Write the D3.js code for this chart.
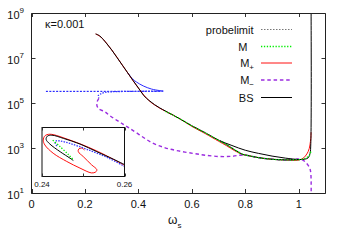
<!DOCTYPE html>
<html>
<head>
<meta charset="utf-8">
<script src="https://cdn.jsdelivr.net/npm/d3@7/dist/d3.min.js"></script>
<style>
 body{margin:0;background:#fff}
 svg{display:block;font-family:"Liberation Sans",Arial,sans-serif}
</style>
</head>
<body>
<svg id="chart" width="346" height="242"></svg>
<script>
// ---- data: [omega_s, value] ----
var xTicks = [0, 0.2, 0.4, 0.6, 0.8, 1];
var xTickLabels = ["0", "0.2", "0.4", "0.6", "0.8", "1"];
var yTickExp = [1, 3, 5, 7, 9];
var insetTicks = [0.24, 0.25, 0.26];
var insetTickLabels = ["0.24", "", "0.26"];
var kappaLabel = "κ=0.001";

var probelimit = [[0.054, 3.3e5], [0.49, 3.3e5]];

// blue branch (no key entry)
var blueSolid = [[0.36, 2.19e6], [0.38, 1.12e6], [0.393, 8.51e5], [0.418, 5.75e5], [0.449, 4.17e5], [0.48, 3.55e5], [0.493, 3.39e5]];
var blueDotted = [[0.493, 3.39e5], [0.40, 3.31e5], [0.30, 3.16e5], [0.275, 2.95e5], [0.258, 2.51e5], [0.25, 2.09e5], [0.252, 1.62e5]];

var bsUpper = [[0.24, 1.17e8], [0.25, 1.05e8], [0.26, 8.51e7], [0.28, 4.57e7], [0.30, 2.29e7], [0.32, 1.05e7],
  [0.34, 4.79e6], [0.36, 2.19e6], [0.38, 1.0e6], [0.40, 4.68e5], [0.42, 2.14e5], [0.44, 1.29e5], [0.46, 8.51e4],
  [0.48, 6.03e4], [0.50, 4.47e4], [0.55, 2.14e4], [0.60, 9.77e3], [0.65, 4.79e3], [0.70, 2.24e3], [0.75, 1.29e3], [0.80, 794],
  [0.85, 575], [0.90, 437], [0.95, 355], [1.00, 309], [1.02, 316], [1.035, 363], [1.042, 562], [1.045, 1585], [1.046, 3.16e9]];
var bsLower = [[0.70, 2.24e3], [0.73, 1.41e3], [0.76, 832], [0.79, 525], [0.80, 490], [0.85, 372], [0.90, 316], [0.95, 295], [1.01, 309]];

var mTotal = [[0.50, 4.27e4], [0.55, 2.14e4], [0.60, 9.55e3], [0.65, 4.68e3], [0.70, 2.19e3], [0.73, 1.41e3], [0.76, 832],
  [0.79, 525], [0.80, 490], [0.85, 372], [0.90, 316], [0.95, 295], [1.01, 309], [1.029, 372], [1.041, 490], [1.045, 692]];

var mPlus = [[0.24, 1.17e8], [0.26, 8.51e7], [0.30, 2.29e7], [0.35, 3.24e6], [0.40, 4.57e5], [0.44, 1.26e5], [0.48, 5.89e4],
  [0.52, 3.31e4], [0.56, 1.82e4], [0.60, 9.12e3], [0.65, 4.37e3], [0.70, 2.0e3], [0.73, 1.26e3], [0.76, 759], [0.79, 513], [0.80, 490],
  [0.85, 372], [0.90, 316], [0.95, 295], [1.01, 316], [1.035, 692], [1.045, 2.69e3], [1.046, 5.01e3]];

var mMinus = [[0.252, 1.62e5], [0.244, 9.77e4], [0.25, 5.75e4], [0.275, 4.07e4], [0.293, 2.75e4], [0.318, 1.74e4],
  [0.337, 1.26e4], [0.36, 8.51e3], [0.40, 4.17e3], [0.45, 1.74e3], [0.50, 1.02e3], [0.55, 741], [0.605, 575],
  [0.65, 479], [0.705, 417], [0.75, 427], [0.792, 490], [0.85, 372], [0.90, 316], [0.95, 295], [1.01, 309],
  [1.029, 209], [1.041, 126], [1.045, 75.9], [1.046, 3.16]];

// inset (zoom on the spiral near omega_s = 0.24 .. 0.26)
var insetBS = [[0.2601, 6.24e7], [0.2573, 6.93e7], [0.2533, 7.98e7], [0.2492, 9.23e7], [0.2452, 1.026e8], [0.2424, 1.09e8],
  [0.2413, 1.07e8], [0.2410, 1.007e8], [0.2419, 9.23e7], [0.2444, 7.98e7], [0.2468, 7.06e7], [0.2476, 6.76e7]];
var insetMPlus = [[0.2601, 6.15e7], [0.2533, 8.09e7], [0.2468, 9.93e7], [0.2419, 1.11e8], [0.2407, 1.076e8], [0.2403, 9.93e7],
  [0.2407, 9.06e7], [0.2427, 7.76e7], [0.2460, 6.64e7], [0.2492, 5.86e7], [0.2520, 5.35e7], [0.2530, 5.44e7],
  [0.2533, 5.68e7], [0.2520, 6.24e7], [0.2500, 7.28e7], [0.2488, 7.98e7], [0.2489, 8.39e7], [0.2496, 8.55e7], [0.2503, 8.24e7]];
var insetM = [[0.2426, 9.93e7], [0.2445, 8.71e7], [0.2465, 7.5e7], [0.2476, 6.84e7]];
var insetBlue = [[0.2601, 6.03e7], [0.2557, 7.19e7], [0.2508, 8.36e7], [0.2468, 9.33e7], [0.2444, 9.77e7], [0.2434, 9.77e7],
  [0.2432, 9.33e7], [0.2436, 8.89e7]];

var keyNames = ["probelimit", "M", "M+", "M−", "BS"];

// ---- layout ----
var svg = d3.select("#chart");
var pL = 31.5, pR = 325.5, pT = 13, pB = 193;
var x = d3.scaleLinear().domain([0, 1.1]).range([pL, pR]);
var y = d3.scaleLog().domain([10, 1e9]).range([pB, pT]);

var insL = 42, insR = 124.5, insT = 127.5, insB = 176.5;
var xi = d3.scaleLinear().domain([0.24, 0.26]).range([insL, insR]);
var yi = d3.scaleLog().domain([5.0e7, 1.26e8]).range([insB, insT]);

var defs = svg.append("defs");
defs.append("clipPath").attr("id", "plotclip").append("rect")
    .attr("x", pL).attr("y", pT).attr("width", pR - pL).attr("height", pB - pT);
defs.append("clipPath").attr("id", "insclip").append("rect")
    .attr("x", insL).attr("y", insT).attr("width", insR - insL).attr("height", insB - insT);

function lineFor(sx, sy) {
  return d3.line().x(function(d){ return sx(d[0]); }).y(function(d){ return sy(d[1]); })
      .curve(d3.curveCatmullRom.alpha(0.5));
}
var mainLine = lineFor(x, y), insLine = lineFor(xi, yi);

var styles = {
  probe:  {stroke: "#0000ff", width: 1, dash: "2,1.4"},
  probeKey: {stroke: "#777", width: 1, dash: "1.5,1.5"},
  blue:   {stroke: "#2a2aff", width: 1, dash: null},
  blueDot:{stroke: "#3a3aff", width: 1.3, dash: "1.5,1.2"},
  m:      {stroke: "#00ee00", width: 1.3, dash: "1.3,1.6"},
  mplus:  {stroke: "#ff1010", width: 1, dash: null},
  mminus: {stroke: "#9a2be0", width: 1.4, dash: "3.5,2.8"},
  bs:     {stroke: "#000", width: 1, dash: null}
};

function drawPath(g, data, gen, st) {
  g.append("path").datum(data).attr("d", gen)
    .attr("fill", "none").attr("stroke", st.stroke).attr("stroke-width", st.width)
    .attr("stroke-dasharray", st.dash);
}

// ---- frame & ticks ----
var frame = svg.append("g");
frame.selectAll(".xt").data(xTicks).enter().append("path")
    .attr("d", function(d){ var px = Math.round(x(d)) + 0.5;
      return "M" + px + "," + pB + "V" + (pB - 4) + "M" + px + "," + pT + "V" + (pT + 4); })
    .attr("stroke", "#333").attr("stroke-width", 1);
frame.selectAll(".yt").data(yTickExp).enter().append("path")
    .attr("d", function(e){ var py = Math.round(y(Math.pow(10, e))) + 0.5;
      return "M" + pL + "," + py + "H" + (pL + 4) + "M" + pR + "," + py + "H" + (pR - 4); })
    .attr("stroke", "#333").attr("stroke-width", 1);

frame.selectAll(".xl").data(xTicks).enter().append("text")
    .attr("x", function(d){ return x(d); }).attr("y", 208)
    .attr("text-anchor", "middle").attr("font-size", 11).attr("fill", "#111")
    .text(function(d, i){ return xTickLabels[i]; });

var yl = frame.selectAll(".yl").data(yTickExp).enter().append("text")
    .attr("x", 24).attr("y", function(e){ return y(Math.pow(10, e)) + 5.5; })
    .attr("text-anchor", "end").attr("font-size", 11).attr("fill", "#111");
yl.append("tspan").text("10");
yl.append("tspan").attr("dy", -6).attr("font-size", 8).text(function(e){ return e; });

var xlab = svg.append("text").attr("x", 168).attr("y", 224).attr("font-size", 12).attr("fill", "#111");
xlab.append("tspan").text("ω");
xlab.append("tspan").attr("dy", 4).attr("font-size", 8).text("s");

svg.append("text").attr("x", 45).attr("y", 28).attr("font-size", 11).attr("fill", "#111").text(kappaLabel);

// ---- curves ----
var plot = svg.append("g").attr("clip-path", "url(#plotclip)");
drawPath(plot, probelimit, mainLine, styles.probe);
drawPath(plot, blueSolid, mainLine, styles.blue);
drawPath(plot, blueDotted, mainLine, styles.blueDot);
drawPath(plot, mPlus, mainLine, styles.mplus);
drawPath(plot, mMinus, mainLine, styles.mminus);
drawPath(plot, bsLower, mainLine, styles.bs);
drawPath(plot, bsUpper, mainLine, styles.bs);
drawPath(plot, mTotal, mainLine, styles.m);

svg.append("path")
    .attr("d", "M" + pL + "," + (pT + 0.5) + "H" + pR + "V" + (pB + 0.5) + "H" + pL + "Z")
    .attr("fill", "none").attr("stroke", "#222").attr("stroke-width", 1);

// ---- key ----
var keyY = [29.5, 46.5, 63, 80, 97.5];
var keyStyles = [styles.probeKey, styles.m, styles.mplus, styles.mminus, styles.bs];
var key = svg.append("g");
keyNames.forEach(function(name, i){
  var t = key.append("text").attr("y", keyY[i] + 4).attr("font-size", 11).attr("fill", "#111").attr("text-anchor", "end");
  if (name === "M+" || name === "M−") {
    t.attr("x", 254);
    t.append("tspan").text("M");
    t.append("tspan").attr("dy", 3).attr("font-size", 8).text(name.slice(1));
  } else if (name === "M") {
    t.attr("x", 247.5).text(name);
  } else {
    t.attr("x", 253.5).text(name);
  }
  drawPath(key, [[261, keyY[i]], [292, keyY[i]]], d3.line(), keyStyles[i]);
});

// ---- inset ----
var ins = svg.append("g");
ins.append("rect").attr("x", insL).attr("y", insT).attr("width", insR - insL).attr("height", insB - insT)
    .attr("fill", "#fff");
var insPlot = ins.append("g").attr("clip-path", "url(#insclip)");
drawPath(insPlot, insetMPlus, insLine, styles.mplus);
drawPath(insPlot, insetBlue, insLine, styles.blueDot);
drawPath(insPlot, insetBS, insLine, styles.bs);
drawPath(insPlot, insetM, insLine, styles.m);
ins.append("rect").attr("x", insL).attr("y", insT).attr("width", insR - insL).attr("height", insB - insT)
    .attr("fill", "none").attr("stroke", "#111").attr("stroke-width", 1);
ins.selectAll(".it").data(insetTicks).enter().append("path")
    .attr("d", function(d){ var px = Math.round(xi(d)) + 0.5;
      return "M" + px + "," + insB + "V" + (insB - 3) + "M" + px + "," + insT + "V" + (insT + 3); })
    .attr("stroke", "#333").attr("stroke-width", 1);
ins.selectAll(".il").data(insetTicks).enter().append("text")
    .attr("x", function(d){ return xi(d); }).attr("y", 187)
    .attr("text-anchor", "middle").attr("font-size", 8).attr("fill", "#111")
    .text(function(d, i){ return insetTickLabels[i]; });
</script>
</body>
</html>
